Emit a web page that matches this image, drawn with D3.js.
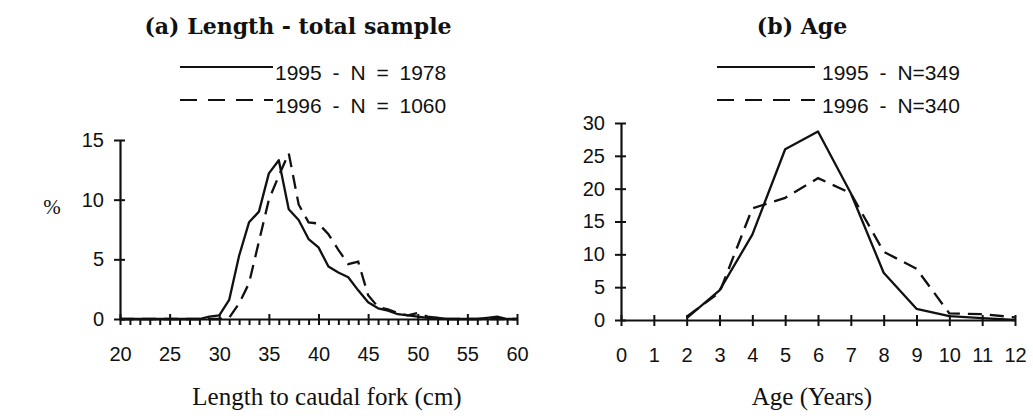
<!DOCTYPE html>
<html>
<head>
<meta charset="utf-8">
<script src="https://cdn.jsdelivr.net/npm/d3@7"></script>
<style>
  body { margin: 0; background: #fff; }
  svg { display: block; }
</style>
</head>
<body>
<div class="graph"></div>
<script>
// (a) length distribution, % of sample per 1 cm bin
var lengths = [20,21,22,23,24,25,26,27,28,29,30,31,32,33,34,35,36,37,38,39,40,
               41,42,43,44,45,46,47,48,49,50,51,52,53,54,55,56,57,58,59,60];
var len1995 = [0,0,0,0,0,0,0,0,0,0.2,0.3,1.6,5.3,8.1,9.0,12.2,13.3,9.2,8.3,6.7,6.0,
               4.4,3.9,3.5,2.4,1.4,0.9,0.7,0.4,0.3,0.2,0.1,0.1,0,0,0,0,0.1,0.2,0,0];
var len1996 = [0,0,0,0,0,0,0,0,0,0,0,0.1,1.3,3.0,6.5,10.0,12.0,13.9,9.6,8.1,8.0,
               7.1,5.8,4.6,4.8,2.0,1.0,0.8,0.5,0.3,0.5,0.2,0.1,0,0,0,0,0,0,0,0];

// (b) age distribution
var ages = [2,3,4,5,6,7,8,9,10,11,12];
var age1995 = [0.3,4.5,13.0,26.0,28.7,19.3,7.2,1.7,0.6,0.3,0];
var age1996 = [0.5,4.2,17.0,18.6,21.6,19.3,10.4,7.8,1.0,0.9,0.4];

var lenTicks = [20,25,30,35,40,45,50,55,60];
var ageTicks = [0,1,2,3,4,5,6,7,8,9,10,11,12];
var pctTicksA = [0,5,10,15];
var pctTicksB = [0,5,10,15,20,25,30];

var legendA = ['1995 - N = 1978', '1996 - N = 1060'];
var legendB = ['1995 - N=349', '1996 - N=340'];

var width = 1033, height = 416;
var ink = '#111';

var svg = d3.select('div.graph')
    .append('svg')
        .attr('width', width)
        .attr('height', height);

function axisStyle(g) {
    g.selectAll('path.domain')
        .style('stroke', ink)
        .style('stroke-width', '2.2px')
        .style('fill', 'none');
    g.selectAll('.tick line')
        .style('stroke', ink)
        .style('stroke-width', '2px');
    g.selectAll('.tick text')
        .style('fill', ink)
        .style('font-family', '"Liberation Sans", Arial, sans-serif')
        .style('font-size', '20px');
}

function panel(opt) {
    var x = d3.scaleLinear().domain(opt.xDomain).range(opt.xRange);
    var y = d3.scaleLinear().domain(opt.yDomain).range(opt.yRange);

    // series first, axes drawn over them
    var path = d3.line()
        .x((d) => x(d[0]))
        .y((d) => y(d[1]));

    svg.append('path')
        .datum(opt.xs.map((v, i) => [v, opt.s1[i]]))
        .attr('d', path)
        .attr('fill', 'none')
        .attr('stroke', ink)
        .attr('stroke-width', 2.3)
        .attr('stroke-linejoin', 'round');

    svg.append('path')
        .datum(opt.xs.map((v, i) => [v, opt.s2[i]]))
        .attr('d', path)
        .attr('fill', 'none')
        .attr('stroke', ink)
        .attr('stroke-width', 2.3)
        .attr('stroke-dasharray', '14,8');

    // x axis
    var gx = svg.append('g')
        .attr('class', 'xaxis')
        .attr('transform', 'translate(0,' + opt.yRange[0] + ')')
        .call(d3.axisBottom(x)
            .tickValues(opt.xMinor)
            .tickSize(6)
            .tickSizeOuter(0)
            .tickPadding(22)
            .tickFormat((d) => opt.xLabels.indexOf(d) >= 0 ? d : ''));
    gx.selectAll('.tick line')
        .attr('y1', (d) => opt.xLabels.indexOf(d) >= 0 ? -5 : 0)
        .attr('y2', 6);
    axisStyle(gx);

    // y axis
    var gy = svg.append('g')
        .attr('class', 'yaxis')
        .attr('transform', 'translate(' + opt.xRange[0] + ',0)')
        .call(d3.axisLeft(y)
            .tickValues(opt.yTicks)
            .tickSize(6)
            .tickSizeOuter(0)
            .tickPadding(10));
    gy.selectAll('.tick line').attr('x1', 5).attr('x2', -6);
    axisStyle(gy);

    // title
    svg.append('text')
        .attr('x', opt.titleX)
        .attr('y', 34)
        .attr('text-anchor', 'middle')
        .attr('fill', ink)
        .style('font-family', '"DejaVu Serif", serif')
        .style('font-weight', 'bold')
        .style('font-size', '22px')
        .text(opt.title);

    // legend
    var lg = svg.append('g');
    lg.selectAll('line')
        .data(opt.legend)
        .enter()
        .append('line')
            .attr('x1', opt.legX[0])
            .attr('x2', opt.legX[1])
            .attr('y1', (d, i) => 67 + i * 33)
            .attr('y2', (d, i) => 67 + i * 33)
            .attr('stroke', ink)
            .attr('stroke-width', 2)
            .attr('stroke-dasharray', (d, i) => i ? '17,11' : null);
    lg.selectAll('text')
        .data(opt.legend)
        .enter()
        .append('text')
            .attr('x', opt.legX[1] + opt.legGap)
            .attr('y', (d, i) => 80 + i * 33)
            .attr('fill', ink)
            .style('font-family', '"Liberation Sans", Arial, sans-serif')
            .style('font-size', '21px')
            .style('word-spacing', '5px')
            .text((d) => d);

    // x title
    svg.append('text')
        .attr('x', opt.xTitleX)
        .attr('y', 405)
        .attr('text-anchor', 'middle')
        .attr('fill', ink)
        .style('font-family', '"Liberation Serif", serif')
        .style('font-size', '25px')
        .text(opt.xTitle);
}

panel({
    xs: lengths, s1: len1995, s2: len1996,
    xDomain: [20, 60], xRange: [120, 517],
    yDomain: [0, 15], yRange: [319, 140],
    xMinor: lengths, xLabels: lenTicks, yTicks: pctTicksA,
    title: '(a) Length - total sample', titleX: 298,
    legend: legendA, legX: [180, 273], legGap: 2,
    xTitle: 'Length to caudal fork (cm)', xTitleX: 327
});

panel({
    xs: ages, s1: age1995, s2: age1996,
    xDomain: [0, 12], xRange: [621, 1015],
    yDomain: [0, 30], yRange: [320, 123],
    xMinor: ageTicks, xLabels: ageTicks, yTicks: pctTicksB,
    title: '(b) Age', titleX: 802,
    legend: legendB, legX: [717, 815], legGap: 7,
    xTitle: 'Age (Years)', xTitleX: 812
});

svg.append('text')
    .attr('x', 52)
    .attr('y', 214)
    .attr('text-anchor', 'middle')
    .attr('fill', ink)
    .style('font-family', '"Liberation Serif", serif')
    .style('font-size', '21px')
    .text('%');
</script>
</body>
</html>
